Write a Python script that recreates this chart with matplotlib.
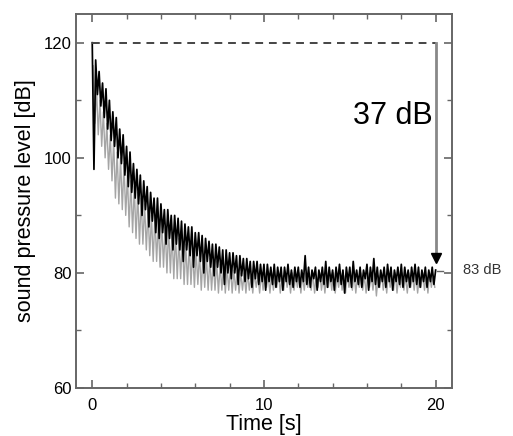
# sound pressure level decay after the tone stops
import numpy as np
import matplotlib.pyplot as plt
from matplotlib.ticker import MultipleLocator

plt.rcParams['font.family'] = ['Liberation Sans', 'DejaVu Sans']

# black trace, one value every 0.1 s (0.0 .. 20.0 s)
level_black = [
    120, 98, 117, 111, 115, 109, 113, 107, 112, 105,
    110, 103, 108, 102, 107, 100, 105, 99, 104, 97,
    102, 95, 101, 94, 99, 93, 98, 92, 97, 90,
    96, 91, 95, 88, 94, 89, 93, 87, 93, 86,
    92, 87, 91, 85, 91, 86, 90, 84, 90, 85,
    89.5, 84, 89, 82, 88.5, 84, 88, 83, 88, 81,
    87, 83, 87, 82, 86.5, 80, 86, 82, 85.5, 81,
    85, 79.5, 85, 81, 84.5, 80, 84, 78, 84, 80,
    83.5, 79, 83.5, 80, 83, 78, 83, 79.5, 82.5, 78.5,
    82.5, 79, 82, 77.5, 82, 79, 82, 78, 81.5, 78.5,
    81.5, 77, 81.5, 78.5, 81, 78, 81.5, 77.5, 81, 78.5,
    81, 77, 81, 78.5, 81.5, 78, 80.5, 77.5, 81, 78.5,
    81, 77.5, 80.5, 78.5, 83, 78, 81, 77.5, 80.5, 79,
    81, 77, 80.5, 78.5, 81, 78, 82, 77.5, 81, 78.5,
    80.5, 77, 81, 78.5, 81.5, 78, 80.5, 76.5, 81, 78.5,
    81, 77.5, 82, 78.5, 80.5, 78, 81, 77.5, 80.5, 79,
    81.5, 77, 81, 78.5, 82.5, 78, 81, 77.5, 80.5, 78.5,
    81, 77.5, 81.5, 78.5, 81, 77, 80.5, 78.5, 81, 78,
    81.5, 77.5, 81, 78.5, 80.5, 77.5, 81, 78.5, 81.5, 78,
    81, 77.5, 80.5, 78.5, 81, 77.5, 80.5, 78.5, 81, 78,
    80.5,
]

# grey trace, one value every 0.1 s starting at 0.05 s
level_grey = [
    116, 106, 112, 104, 110, 102, 108, 100, 106, 98,
    104, 96, 103, 93, 101, 92, 100, 91, 99, 90,
    97, 88, 96, 87, 95, 86, 94, 85, 93, 85,
    92, 84, 91, 83, 90, 82, 90, 82, 89, 81,
    89, 81, 88, 80, 88, 80, 87, 79, 87, 79,
    86, 79, 86, 78, 85, 78, 85, 78, 84, 77.5,
    84, 78, 83.5, 77, 83, 77.5, 83, 77, 82.5, 77,
    82, 77, 82, 76.5, 81.5, 77, 81.5, 76.5, 81, 77,
    81, 76.5, 80.5, 77, 80.5, 76.5, 80, 77, 80, 76.5,
    80, 77, 79.5, 76.5, 80, 77.5, 79.5, 76.5, 80, 77,
    80, 77.5, 79.5, 76.5, 80, 77, 79.5, 77.5, 80, 76.5,
    79.5, 77, 80, 77.5, 79.5, 76.5, 80, 77, 79.5, 77.5,
    80, 76.5, 79.5, 77, 80, 77.5, 79.5, 77, 80, 76.5,
    79.5, 77.5, 80, 77, 79.5, 76.5, 80, 77.5, 79.5, 77,
    80, 76.5, 79.5, 77.5, 80, 77, 79.5, 76.5, 80, 77.5,
    79.5, 77, 80, 76.5, 79.5, 77.5, 80, 77, 79.5, 76.5,
    80, 77.5, 79.5, 77, 80, 76, 79.5, 77.5, 80, 77,
    79.5, 76.5, 80, 77.5, 79.5, 77, 80, 76.5, 79.5, 77.5,
    80, 77, 79.5, 76.5, 80, 77.5, 79.5, 77, 80, 76.5,
    79.5, 77.5, 80, 77, 79.5, 76.5, 80, 77.5, 79.5, 77.5,
]

t_black = np.linspace(0, 20, len(level_black))
t_grey = 0.05 + 0.1 * np.arange(len(level_grey))

start_level = 120
end_level = 81.7
drop_label = '37 dB'
end_label = '83 dB'

fig = plt.figure(figsize=(5.13, 4.36), dpi=100)
ax = fig.add_axes([0.148, 0.110, 0.733, 0.858])

ax.plot(t_grey, level_grey, color='#a5a5a5', lw=1.0)
ax.plot(t_black, level_black, color='black', lw=1.25)

# reference line and the drop arrow
ax.plot([0, 20], [start_level, start_level], color='#444444', lw=1.4,
        ls=(0, (4, 3)))
ax.plot([20, 20], [start_level, end_level + 1.2], color='#888888', lw=2)
ax.plot([20], [end_level + 0.9], marker='v', color='black', ms=7)
ax.plot([20.1, 20.45], [80.3, 80.3], color='#666666', lw=1, clip_on=False)
ax.text(19.8, 107.2, drop_label, fontsize=22, ha='right', va='center')
ax.text(21.6, 80.5, end_label, fontsize=10.5, ha='left', va='center',
        color='#333333', clip_on=False)

ax.set_xlim(-0.95, 20.95)
ax.set_ylim(60, 125)
ax.xaxis.set_major_locator(MultipleLocator(10))
ax.xaxis.set_minor_locator(MultipleLocator(2))
ax.yaxis.set_major_locator(MultipleLocator(20))
ax.yaxis.set_minor_locator(MultipleLocator(10))
ax.tick_params(which='both', direction='in', top=True, right=True,
               color='#666666', labelsize=12)
ax.tick_params(which='major', length=6, width=1.2)
ax.tick_params(which='minor', length=3.5, width=1)
ax.tick_params(axis='x', pad=7)
ax.tick_params(axis='y', pad=3)
for s in ax.spines.values():
    s.set_color('#666666')
    s.set_linewidth(1.4)

ax.set_xlabel('Time [s]', fontsize=15.5, labelpad=1)
ax.set_ylabel('sound pressure level [dB]', fontsize=15.5, labelpad=6)

fig.savefig('out.png', dpi=100)
